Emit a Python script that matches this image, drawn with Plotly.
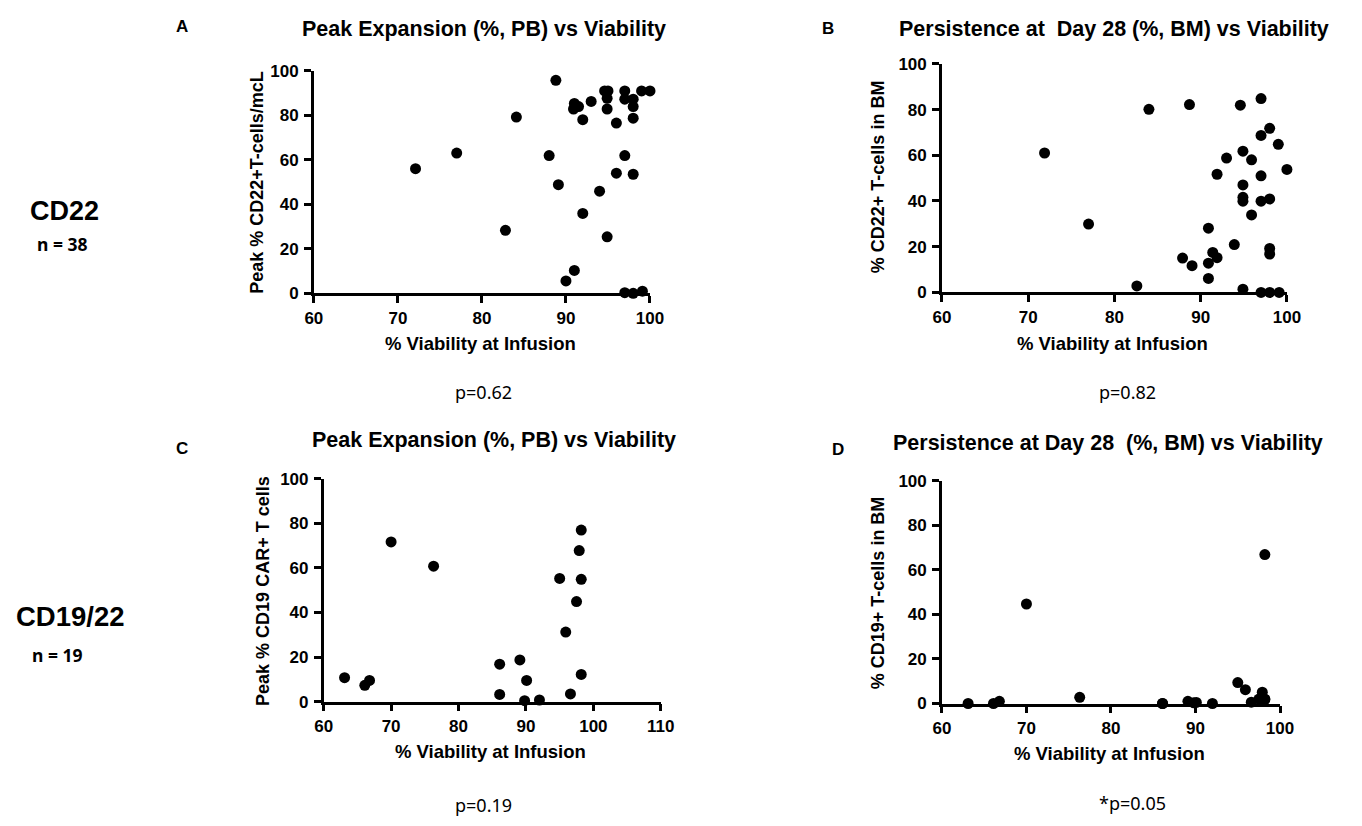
import plotly.graph_objects as go

# ---------------- data ----------------
# Panel A: CD22 peak expansion vs viability
a_viability = [72.1, 77.0, 84.1, 82.8, 88.0, 88.8, 89.1, 90.0, 91.0, 90.9, 91.0, 91.5, 92.0, 92.0,
               93.0, 94.0, 94.6, 95.0, 94.9, 94.9, 94.9, 96.0, 96.0, 97.0, 97.0, 97.0, 97.0, 98.0,
               98.0, 98.0, 98.0, 98.0, 99.0, 99.1, 100.0]
a_peak = [56.0, 63.0, 79.2, 28.3, 61.9, 95.7, 48.8, 5.6, 10.3, 82.8, 85.3, 83.9, 78.0, 35.9,
          86.2, 45.9, 90.9, 90.9, 87.6, 82.8, 25.4, 76.5, 54.0, 90.9, 87.2, 61.9, 0.3, 87.2,
          83.9, 78.7, 53.5, 0.0, 90.9, 1.0, 90.9]

# Panel B: CD22 persistence day 28 vs viability
b_viability = [71.9, 77.0, 84.0, 82.6, 87.9, 88.7, 89.0, 90.9, 90.9, 90.9, 91.4, 91.9, 91.9, 93.0,
               93.9, 94.6, 94.9, 94.9, 94.9, 94.9, 94.9, 95.9, 95.9, 97.0, 97.0, 97.0, 97.0, 97.0,
               98.0, 98.0, 98.0, 98.0, 98.0, 99.0, 99.1, 100.0]
b_persist = [61.0, 29.9, 80.1, 2.8, 15.0, 82.2, 11.7, 28.1, 12.8, 6.1, 17.5, 15.2, 51.7, 58.8,
             20.9, 81.9, 61.8, 47.0, 41.6, 39.9, 1.4, 33.9, 58.0, 84.8, 68.7, 51.0, 39.9, 0.0,
             71.8, 40.9, 19.2, 16.8, 0.0, 64.8, 0.0, 53.8]

# Panel C / D: CD19/22 (same patients)
cd_viability = [63.1, 66.1, 66.8, 70.0, 76.3, 86.1, 86.1, 89.1, 89.8, 90.1, 92.0, 95.0, 95.9,
                96.6, 97.5, 97.9, 98.2, 98.2, 98.2]
c_peak = [10.7, 7.3, 9.5, 71.7, 60.8, 16.8, 3.2, 18.7, 0.4, 9.5, 0.7, 55.3, 31.2,
          3.4, 44.9, 67.8, 77.0, 54.9, 12.2]
d_persist = [0.0, 0.0, 1.0, 44.7, 2.8, 0.0, 0.0, 1.0, 0.3, 0.5, 0.0, 9.4, 6.2,
             0.6, 2.0, 5.1, 66.9, 1.8, 2.0]

x_ticks_ab = [60, 70, 80, 90, 100]
x_ticks_c = [60, 70, 80, 90, 100, 110]
y_ticks = [0, 20, 40, 60, 80, 100]

titles = ["Peak Expansion (%, PB) vs Viability",
          "Persistence at  Day 28 (%, BM) vs Viability",
          "Peak Expansion (%, PB) vs Viability",
          "Persistence at Day 28  (%, BM) vs Viability"]
y_titles = ["Peak % CD22+T-cells/mcL", "% CD22+ T-cells in BM",
            "Peak % CD19 CAR+ T cells", "% CD19+ T-cells in BM"]
x_title = "% Viability at Infusion"
p_values = ["p=0.62", "p=0.82", "p=0.19", "*p=0.05"]
letters = ["A", "B", "C", "D"]

# ---------------- layout geometry (page pixels) ----------------
PAGE_W, PAGE_H = 1362, 826
OFF = 8                       # default body margin of the html page
W, H = PAGE_W - 2 * OFF, PAGE_H - 2 * OFF

def fx(px):
    return (px - OFF) / W

def fy(py):
    return 1 - (py - OFF) / H

# (left, right, top, bottom) of plot areas
boxes = [(310, 652, 63, 291), (949, 1300, 56, 290), (320, 663, 481, 709), (949, 1293, 483, 711)]
xranges = [[60, 100], [60, 100], [60, 110], [60, 100]]
xtickvals = [x_ticks_ab, x_ticks_ab, x_ticks_c, x_ticks_ab]
series = [(a_viability, a_peak), (b_viability, b_persist), (cd_viability, c_peak), (cd_viability, d_persist)]

FONT = "Liberation Sans, Arial, sans-serif"
FONT2 = "Noto Sans, Open Sans, sans-serif"

fig = go.Figure()
for i, (xs, ys) in enumerate(series):
    n = "" if i == 0 else str(i + 1)
    fig.add_trace(go.Scatter(x=xs, y=ys, mode="markers", xaxis="x" + n, yaxis="y" + n,
                             marker=dict(color="black", size=11, line=dict(width=0)),
                             cliponaxis=False, showlegend=False, hoverinfo="x+y"))
    l, r, t, b = boxes[i]
    common = dict(showline=True, linecolor="black", linewidth=2.5, ticks="outside", ticklen=7,
                  tickwidth=2.5, tickcolor="black", showgrid=False, zeroline=False,
                  tickfont=dict(family=FONT, size=17, color="black", weight="bold"),
                  fixedrange=True)
    ax = dict(domain=[fx(l), fx(r)], range=xranges[i], tickvals=xtickvals[i],
              anchor="y" + n, **common)
    ay = dict(domain=[fy(b), fy(t)], range=[0, 100], tickvals=y_ticks,
              anchor="x" + n, ticklabelstandoff=2, **common)
    fig.update_layout(**{"xaxis" + n: ax, "yaxis" + n: ay})

ann = []
def add(text, x, y, size, family=FONT, bold=True, angle=0):
    ann.append(dict(text=text, x=fx(x), y=fy(y), xref="paper", yref="paper",
                    showarrow=False, xanchor="center", yanchor="middle", textangle=angle,
                    font=dict(family=family, size=size, color="black",
                              weight="bold" if bold else "normal")))

title_pos = [(483, 20), (1124, 20), (493, 441), (1118, 444)]
letter_pos = [(176, 18), (833, 20), (176, 450), (843, 451)]
xt_pos = [(480, 342), (1123, 342), (490, 760), (1120, 762)]
yt_pos = [(252, 177), (884, 172), (258, 596), (884, 598)]
p_pos = [(483, 392), (1138, 392), (483, 815), (1143, 813)]
for i in range(4):
    add(titles[i], *title_pos[i], 21.5)
    add(letters[i], *letter_pos[i], 17)
    add(x_title, *xt_pos[i], 18.5)
    add(y_titles[i], *yt_pos[i], 18, angle=-90)
    add(p_values[i], *p_pos[i], 18, family=FONT2, bold=False)

add("CD22", 56, 207, 27)
add("n = 38", 54, 240, 17.5, family=FONT2)
add("CD19/22", 62, 622, 27.5)
add("n = 19", 49, 661, 17.5, family=FONT2)

fig.update_layout(width=W, height=H, autosize=False, margin=dict(l=0, r=0, t=0, b=0),
                  paper_bgcolor="white", plot_bgcolor="white", annotations=ann)

fig.write_html("out.html", config={"displayModeBar": False})
